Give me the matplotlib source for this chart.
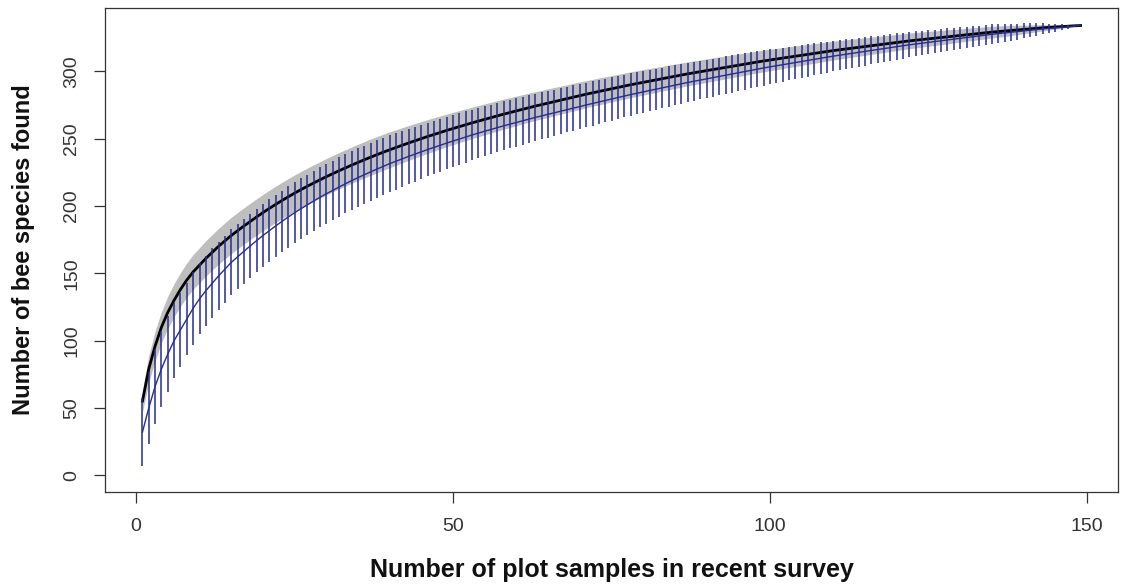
import numpy as np
import matplotlib
matplotlib.use("Agg")
import matplotlib.pyplot as plt

plt.rcParams["font.family"] = ["Liberation Sans", "DejaVu Sans"]

# number of plot samples (1..149)
samples = np.arange(1, 150)

# recent survey: mean species accumulation (black line)
recent_mean = [
    55, 79, 96, 110, 121, 130, 138, 145, 151, 156,
    161, 165.5, 170, 174, 178, 181.6, 185.1, 188.5, 191.8, 195.0,
    198.1, 201.1, 204.0, 206.8, 209.5, 212.1, 214.6, 217.0, 219.4, 221.7,
    223.9, 226.1, 228.2, 230.3, 232.3, 234.3, 236.2, 238.1, 239.9, 241.7,
    243.4, 245.1, 246.8, 248.4, 250.0, 251.6, 253.1, 254.6, 256.1, 257.5,
    258.9, 260.3, 261.7, 263.0, 264.3, 265.6, 266.9, 268.2, 269.4, 270.6,
    271.8, 273.0, 274.2, 275.3, 276.4, 277.5, 278.6, 279.7, 280.8, 281.9,
    283.0, 284.0, 285.0, 286.0, 287.0, 288.0, 289.0, 290.0, 290.9, 291.8,
    292.7, 293.6, 294.5, 295.4, 296.3, 297.2, 298.1, 298.9, 299.7, 300.5,
    301.3, 302.1, 302.9, 303.7, 304.5, 305.3, 306.1, 306.9, 307.7, 308.4,
    309.1, 309.8, 310.5, 311.2, 311.9, 312.6, 313.3, 314.0, 314.7, 315.4,
    316.0, 316.6, 317.2, 317.8, 318.4, 319.0, 319.6, 320.2, 320.8, 321.4,
    322.0, 322.6, 323.1, 323.6, 324.1, 324.6, 325.1, 325.6, 326.1, 326.6,
    327.1, 327.6, 328.1, 328.6, 329.1, 329.5, 329.9, 330.3, 330.7, 331.1,
    331.5, 331.9, 332.3, 332.6, 332.9, 333.2, 333.5, 333.8, 334.0]

# half width of the grey confidence band
recent_ci = [
    8, 10, 11, 11.5, 12, 12.3, 12.5, 12.7, 12.9, 13.0,
    13.2, 13.2, 13.3, 13.4, 13.5, 13.5, 13.5, 13.5, 13.5, 13.5,
    13.5, 13.5, 13.5, 13.5, 13.5, 13.5, 13.5, 13.5, 13.5, 13.5,
    13.5, 13.5, 13.5, 13.5, 13.5, 13.5, 13.5, 13.5, 13.4, 13.3,
    13.2, 13.1, 12.9, 12.8, 12.7, 12.6, 12.4, 12.3, 12.1, 12.0,
    11.9, 11.8, 11.7, 11.6, 11.5, 11.4, 11.3, 11.2, 11.1, 11.0,
    10.9, 10.8, 10.7, 10.6, 10.6, 10.5, 10.4, 10.3, 10.3, 10.2,
    10.1, 10.0, 10.0, 9.9, 9.8, 9.7, 9.7, 9.6, 9.5, 9.5,
    9.4, 9.3, 9.2, 9.2, 9.1, 9.0, 8.9, 8.9, 8.8, 8.7,
    8.7, 8.6, 8.5, 8.4, 8.4, 8.3, 8.2, 8.1, 8.1, 8.0,
    7.9, 7.8, 7.7, 7.6, 7.5, 7.4, 7.3, 7.2, 7.1, 7.0,
    6.9, 6.8, 6.7, 6.6, 6.5, 6.4, 6.3, 6.2, 6.1, 6.0,
    5.9, 5.8, 5.7, 5.6, 5.5, 5.4, 5.3, 5.2, 5.0, 4.9,
    4.8, 4.7, 4.6, 4.5, 4.3, 4.2, 4.0, 3.8, 3.5, 3.2,
    2.9, 2.6, 2.3, 2.0, 1.6, 1.2, 0.8, 0.4, 0.0]

# second accumulation curve (blue line with bars)
blue_mean = [
    32, 50, 66, 79, 90, 100, 108, 116, 124, 131,
    137, 142.5, 148, 153, 158, 162.2, 166.3, 170.3, 174.2, 178.0,
    181.6, 185.1, 188.5, 191.8, 194.9, 197.9, 200.8, 203.6, 206.4, 209.0,
    211.5, 214.0, 216.4, 218.8, 221.0, 223.2, 225.3, 227.4, 229.4, 231.4,
    233.2, 235.0, 236.8, 238.5, 240.2, 241.9, 243.5, 245.1, 246.7, 248.2,
    249.7, 251.2, 252.7, 254.1, 255.5, 256.8, 258.2, 259.5, 260.8, 262.0,
    263.3, 264.5, 265.8, 266.9, 268.1, 269.2, 270.4, 271.5, 272.7, 273.8,
    275.0, 276.1, 277.2, 278.3, 279.4, 280.5, 281.6, 282.7, 283.7, 284.7,
    285.7, 286.7, 287.7, 288.7, 289.7, 290.7, 291.7, 292.6, 293.5, 294.4,
    295.3, 296.2, 297.1, 298.0, 298.9, 299.8, 300.7, 301.6, 302.5, 303.3,
    304.1, 304.9, 305.7, 306.5, 307.3, 308.1, 308.9, 309.7, 310.5, 311.3,
    312.0, 312.7, 313.4, 314.1, 314.8, 315.5, 316.2, 316.9, 317.6, 318.3,
    319.0, 319.7, 320.3, 320.9, 321.5, 322.1, 322.7, 323.3, 323.9, 324.5,
    325.1, 325.7, 326.3, 326.9, 327.5, 328.0, 328.5, 329.0, 329.5, 330.0,
    330.5, 331.0, 331.5, 331.9, 332.3, 332.7, 333.1, 333.6, 334.0]

# half length of the blue bars
blue_err = [
    25, 27, 28, 28, 28, 28, 27.5, 27, 27, 26.5,
    26, 26, 25.5, 25, 24.5, 24.2, 24.0, 23.8, 23.6, 23.4,
    23.2, 23.0, 22.9, 22.8, 22.7, 22.6, 22.5, 22.4, 22.3, 22.2,
    22.1, 22.0, 21.9, 21.8, 21.7, 21.6, 21.5, 21.4, 21.3, 21.2,
    21.0, 20.8, 20.6, 20.4, 20.2, 20.0, 19.8, 19.6, 19.4, 19.2,
    19.1, 19.0, 18.9, 18.7, 18.6, 18.5, 18.4, 18.3, 18.1, 18.0,
    17.9, 17.7, 17.6, 17.5, 17.3, 17.2, 17.0, 16.9, 16.8, 16.6,
    16.5, 16.4, 16.3, 16.2, 16.0, 15.9, 15.8, 15.7, 15.6, 15.4,
    15.3, 15.2, 15.1, 15.0, 14.8, 14.7, 14.6, 14.5, 14.4, 14.2,
    14.1, 14.0, 13.9, 13.8, 13.6, 13.5, 13.4, 13.3, 13.2, 13.0,
    12.8, 12.7, 12.5, 12.4, 12.2, 12.0, 11.9, 11.7, 11.5, 11.4,
    11.2, 11.1, 10.9, 10.7, 10.6, 10.4, 10.2, 10.1, 9.9, 9.8,
    9.6, 9.4, 9.3, 9.1, 8.9, 8.8, 8.6, 8.5, 8.3, 8.1,
    8.0, 7.8, 7.6, 7.5, 7.3, 7.2, 6.8, 6.4, 6.0, 5.6,
    5.1, 4.6, 4.1, 3.5, 2.9, 2.3, 1.6, 0.9, 0.0]

x_ticks = [0, 50, 100, 150]
y_ticks = [0, 50, 100, 150, 200, 250, 300]

recent_mean = np.array(recent_mean)
recent_ci = np.array(recent_ci)
blue_mean = np.array(blue_mean)
blue_err = np.array(blue_err)

blue = "#262c92"

fig = plt.figure(figsize=(11.26, 5.86), dpi=100)
ax = fig.add_axes([0.0933, 0.1604, 0.8996, 0.8259])

ax.fill_between(samples, recent_mean - recent_ci, recent_mean + recent_ci,
                color="#bebebe", linewidth=0, zorder=1)
ax.plot(samples, recent_mean, color="black", lw=2.0, zorder=2)
ax.vlines(samples, blue_mean - blue_err, blue_mean + blue_err,
          color=blue, lw=1.1, zorder=3)
ax.plot(samples, blue_mean, color=blue, lw=1.0, zorder=4)

ax.set_xlim(-4.9, 154.9)
ax.set_ylim(-12.5, 347)
ax.set_xticks(x_ticks)
ax.set_yticks(y_ticks)
ax.tick_params(axis="both", direction="out", length=8, width=0.9,
               labelsize=14, colors="#333333")
ax.tick_params(axis="x", pad=11)
ax.tick_params(axis="y", pad=10)
for lab in ax.get_yticklabels():
    lab.set_rotation(90)
    lab.set_va("center")
for s in ax.spines.values():
    s.set_linewidth(0.9)
    s.set_color("#333333")

ax.set_xlabel("Number of plot samples in recent survey", fontsize=18,
              fontweight="bold", labelpad=16, color="#111111")
ax.set_ylabel("Number of bee species found", fontsize=17,
              fontweight="bold", labelpad=20, color="#111111")

fig.savefig("out.png", dpi=100)
